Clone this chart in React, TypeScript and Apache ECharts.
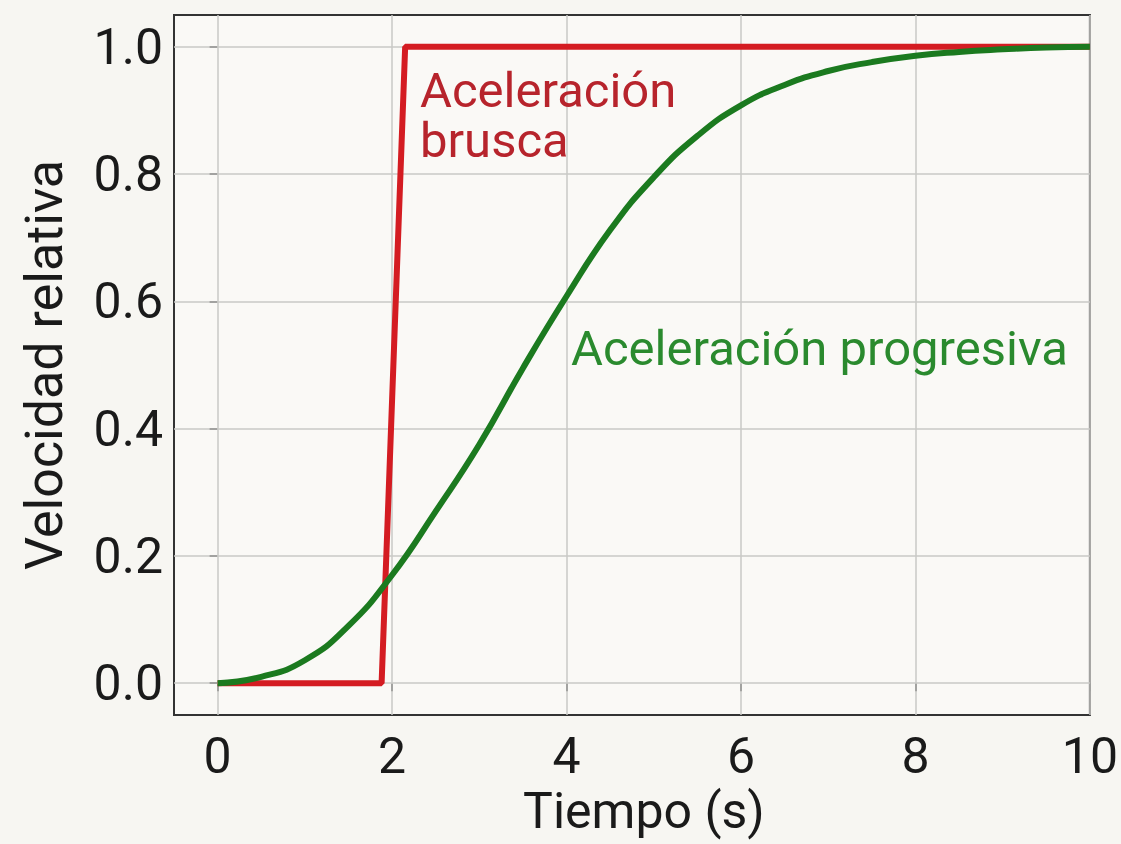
import React, { useEffect, useRef } from "react";
import * as echarts from "echarts";

const xTicks = [0, 2, 4, 6, 8, 10];
const yTicks = [0, 0.2, 0.4, 0.6, 0.8, 1.0];

const abruptX = [0, 1.88, 2.15, 10];
const abruptY = [0, 0, 1, 1];

const progX = [0, 0.5, 1, 1.5, 2, 2.5, 3, 3.5, 4, 4.5, 5, 5.5, 6, 6.5, 7, 7.5, 8, 8.5, 9, 9.5, 10];
const progY = [0, 0.01, 0.036, 0.09, 0.17, 0.27, 0.375, 0.495, 0.608, 0.712, 0.795, 0.86, 0.908, 0.94, 0.962, 0.976, 0.986, 0.992, 0.996, 0.999, 1.0];

const labelAbrupt = ["Aceleración", "brusca"];
const labelProg = "Aceleración progresiva";
const xName = "Tiempo (s)";
const yName = "Velocidad relativa";

const FONT = "Roboto, 'Noto Sans', sans-serif";

export default function App() {
  const ref = useRef<HTMLDivElement>(null);
  useEffect(() => {
    if (!ref.current) return;
    const chart = echarts.init(ref.current, undefined, { renderer: "svg" });
    const gridMarks = [
      ...xTicks.map((v) => ({ xAxis: v })),
      ...yTicks.map((v) => ({ yAxis: v })),
    ];
    chart.setOption({
      animation: false,
      backgroundColor: "#f7f6f2",
      textStyle: { fontFamily: FONT },
      grid: {
        left: 174,
        top: 15,
        right: 29,
        bottom: 129,
        show: true,
        borderColor: "#333",
        borderWidth: 2,
        backgroundColor: "#faf9f6",
      },
      xAxis: {
        type: "value",
        min: -0.5,
        max: 10,
        name: xName,
        nameLocation: "middle",
        nameGap: 69,
        nameTextStyle: { fontSize: 50, color: "#1a1a1a", fontFamily: FONT, padding: [0, 0, 0, 24] },
        axisLine: { show: false },
        splitLine: { show: false },
        axisTick: { show: true, customValues: xTicks, length: 8, lineStyle: { color: "#333", width: 2 } },
        axisLabel: {
          customValues: xTicks,
          margin: 16,
          fontSize: 50,
          color: "#1a1a1a",
          fontFamily: FONT,
        },
      },
      yAxis: {
        type: "value",
        min: -0.05,
        max: 1.05,
        name: yName,
        nameLocation: "middle",
        nameGap: 104,
        nameTextStyle: { fontSize: 52, color: "#1a1a1a", fontFamily: FONT },
        axisLine: { show: false },
        splitLine: { show: false },
        axisTick: { show: true, customValues: yTicks, length: 8, lineStyle: { color: "#333", width: 2 } },
        axisLabel: {
          customValues: yTicks,
          margin: 11,
          fontSize: 50,
          color: "#1a1a1a",
          fontFamily: FONT,
          formatter: (v: number) => v.toFixed(1),
        },
      },
      series: [
        {
          type: "line",
          data: [[0, 0]],
          showSymbol: false,
          lineStyle: { width: 0 },
          silent: true,
          z: 1,
          markLine: {
            silent: true,
            z: 1,
            symbol: ["none", "none"],
            label: { show: false },
            lineStyle: { color: "#c9c9c6", width: 1.5, type: "solid" },
            data: gridMarks,
            animation: false,
          },
        },
        {
          type: "line",
          data: abruptX.map((x, i) => [x, abruptY[i]]),
          showSymbol: false,
          lineStyle: { color: "#d41c22", width: 6 },
          z: 3,
        },
        {
          type: "line",
          data: progX.map((x, i) => [x, progY[i]]),
          showSymbol: false,
          smooth: true,
          lineStyle: { color: "#1b7a1f", width: 6 },
          z: 4,
        },
      ],
      graphic: [
        {
          type: "text",
          left: 420,
          top: 66,
          z: 10,
          style: {
            text: labelAbrupt[0],
            fontSize: 49,
            lineHeight: 46,
            fill: "#b7242c",
            fontFamily: FONT,
          },
        },
        {
          type: "text",
          left: 420,
          top: 116,
          z: 10,
          style: {
            text: labelAbrupt[1],
            fontSize: 49,
            lineHeight: 46,
            fill: "#b7242c",
            fontFamily: FONT,
          },
        },
        {
          type: "text",
          left: 571,
          top: 324,
          z: 10,
          style: {
            text: labelProg,
            fontSize: 49,
            lineHeight: 46,
            fill: "#2a8a2e",
            fontFamily: FONT,
          },
        },
      ],
    });
    return () => chart.dispose();
  }, []);
  return (
    <div
      ref={ref}
      style={{ position: "fixed", left: 0, top: 0, width: 1121, height: 844 }}
    />
  );
}
